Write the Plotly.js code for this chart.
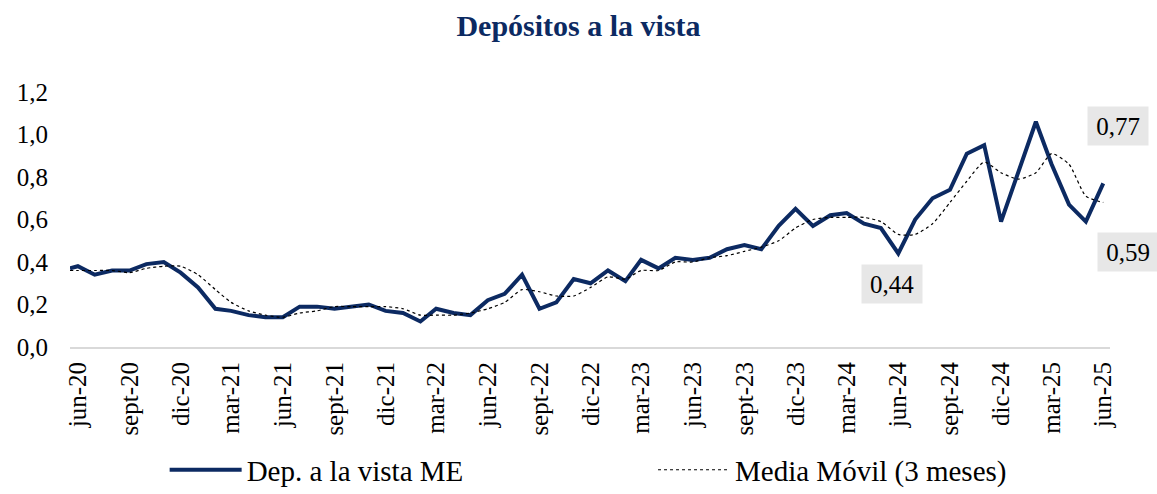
<!DOCTYPE html>
<html><head><meta charset="utf-8">
<script src="https://cdn.plot.ly/plotly-3.0.1.min.js"></script>
<style>html,body{margin:0;padding:0;background:#fff}#chart{width:1157px;height:494px}</style>
</head><body><div id="chart"></div>
<script>
// First observation (shortly before jun-20), then monthly jun-20 .. jun-25
const firstObsDate = '2020-05-18';
const firstMonth = {year: 2020, month: 6};
const nMonths = 61;

const depVistaFirst = 0.37;
const depVista = [
  0.38, 0.34, 0.36, 0.36, 0.39, 0.40, 0.35, 0.28, 0.18, 0.17, 0.15, 0.14,
  0.14, 0.19, 0.19, 0.18, 0.19, 0.20, 0.17, 0.16, 0.12, 0.18, 0.16, 0.15,
  0.22, 0.25, 0.34, 0.18, 0.21, 0.32, 0.30, 0.36, 0.31, 0.41, 0.37, 0.42,
  0.41, 0.42, 0.46, 0.48, 0.46, 0.57, 0.65, 0.57, 0.62, 0.63, 0.58, 0.56,
  0.44, 0.60, 0.70, 0.74, 0.91, 0.95, 0.59, 0.82, 1.06, 0.86, 0.67, 0.59,
  0.77
];
const mediaMovilFirst = 0.36;
const mediaMovil = [
  0.36, 0.36, 0.36, 0.35, 0.37, 0.38, 0.38, 0.34, 0.27, 0.21, 0.17, 0.15,
  0.14, 0.16, 0.17, 0.19, 0.19, 0.19, 0.19, 0.18, 0.15, 0.15, 0.15, 0.16,
  0.18, 0.21, 0.27, 0.26, 0.24, 0.24, 0.28, 0.33, 0.32, 0.36, 0.36, 0.40,
  0.40, 0.42, 0.43, 0.45, 0.47, 0.50, 0.56, 0.60, 0.61, 0.61, 0.61, 0.59,
  0.53, 0.53, 0.58, 0.68, 0.78, 0.87, 0.82, 0.79, 0.82, 0.91, 0.86, 0.71,
  0.68
];
const tickLabels = [
  'jun-20','sept-20','dic-20','mar-21','jun-21','sept-21','dic-21',
  'mar-22','jun-22','sept-22','dic-22','mar-23','jun-23','sept-23',
  'dic-23','mar-24','jun-24','sept-24','dic-24','mar-25','jun-25'
];
const yTicks = [0, 0.2, 0.4, 0.6, 0.8, 1.0, 1.2];
const seriesNames = ['Dep. a la vista ME', 'Media Móvil (3 meses)'];
const labelledIdx = [48, 59, 60]; // jun-24, may-25, jun-25

// build monthly dates
const monthDates = [];
for (let i = 0; i < nMonths; i++) {
  const m0 = firstMonth.month - 1 + i;
  const y = firstMonth.year + Math.floor(m0 / 12);
  const m = (m0 % 12) + 1;
  monthDates.push(y + '-' + String(m).padStart(2, '0') + '-01');
}
const xAll = [firstObsDate].concat(monthDates);
const tickVals = monthDates.filter((d, i) => i % 3 === 0);

const FONT = 'Liberation Serif, Times New Roman, serif';
const NAVY = '#0c2a62';

const traces = [
  {
    x: xAll, y: [depVistaFirst].concat(depVista), type: 'scatter', mode: 'lines',
    name: seriesNames[0], legend: 'legend',
    line: {color: NAVY, width: 4}, cliponaxis: false
  },
  {
    x: xAll, y: [mediaMovilFirst].concat(mediaMovil), type: 'scatter', mode: 'lines',
    name: seriesNames[1], legend: 'legend2',
    line: {color: '#000000', width: 1.2, dash: '3px,3px', shape: 'spline', smoothing: 0.6},
    cliponaxis: false
  }
];

const shifts = {48: [-6, -30], 59: [42, -30], 60: [15, 57]};
const annotations = labelledIdx.map(i => ({
  x: monthDates[i], y: depVista[i], xref: 'x', yref: 'y',
  text: depVista[i].toFixed(2).replace('.', ','),
  showarrow: false, xshift: shifts[i][0], yshift: shifts[i][1],
  bgcolor: '#e7e7e7', borderpad: 0, width: 60, height: 38,
  font: {family: FONT, size: 25, color: '#000'}
}));

const legendCommon = {
  orientation: 'h', y: -0.482, yanchor: 'middle', itemwidth: 72,
  font: {family: FONT, size: 29, color: '#000'}, bgcolor: 'rgba(0,0,0,0)'
};

const layout = {
  width: 1157, height: 494,
  margin: {l: 70, r: 47, t: 92, b: 147, autoexpand: false},
  paper_bgcolor: '#fff', plot_bgcolor: '#fff',
  separators: ',.',
  title: {
    text: 'Depósitos a la vista',
    font: {family: FONT, size: 30, color: NAVY, weight: 'bold'},
    x: 0.5, xanchor: 'center', y: 0.948, yanchor: 'middle', yref: 'container'
  },
  xaxis: {
    type: 'date', range: ['2020-05-18', '2025-06-13'],
    tickvals: tickVals, ticktext: tickLabels, tickangle: -90,
    tickfont: {family: FONT, size: 25, color: '#000'},
    showgrid: false, zeroline: false, showline: true,
    linecolor: '#d9d9d9', linewidth: 2, ticks: '', ticklabelstandoff: 3
  },
  yaxis: {
    range: [0, 1.2], tickvals: yTicks, tickformat: '.1f',
    tickfont: {family: FONT, size: 25, color: '#000'},
    showgrid: false, zeroline: false, showline: false, ticks: '',
    ticklabelstandoff: 21
  },
  showlegend: true,
  legend: Object.assign({}, legendCommon, {x: 0.091, xanchor: 'left'}),
  legend2: Object.assign({}, legendCommon, {x: 0.5606, xanchor: 'left'}),
  annotations: annotations
};

Plotly.newPlot('chart', traces, layout, {displayModeBar: false, staticPlot: true});
</script>
</body></html>
